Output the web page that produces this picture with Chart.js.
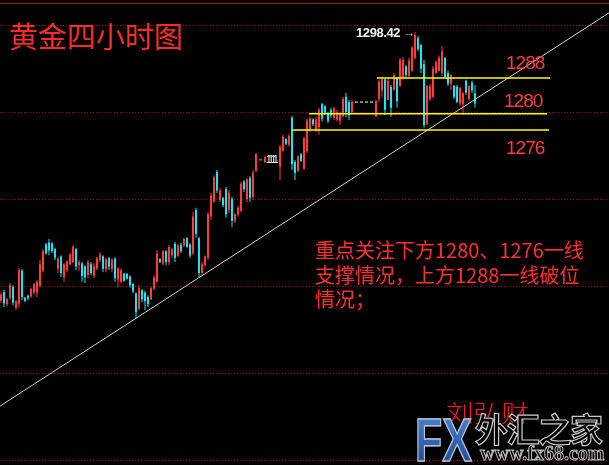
<!DOCTYPE html>
<html><head><meta charset="utf-8">
<script src="https://cdn.jsdelivr.net/npm/chart.js@4/dist/chart.umd.min.js"></script>
<style>
html,body{margin:0;padding:0;background:#000;}
#wrap{position:relative;width:609px;height:465px;overflow:hidden;background:#000;}
canvas{position:absolute;left:0;top:0;}
.t{position:absolute;white-space:nowrap;line-height:1;}
#title{left:9px;top:14px;font:29px "Noto Sans CJK SC",sans-serif;color:#ff2a2a;}
.lvl{font:19px "Liberation Sans",Arial,sans-serif;color:#ff3c3c;letter-spacing:-1px;}
#note{left:315px;top:238px;font:20px "Noto Sans CJK SC",sans-serif;line-height:24.5px;color:#ff3030;}
#hi{left:356px;top:25px;font:bold 13px "Liberation Sans",Arial,sans-serif;color:#eef3fa;letter-spacing:-0.4px;}
#hi span{color:#b8b8b8;font-weight:normal;margin-left:2px;}
#gapmark{left:266px;top:154px;font:10px "Liberation Sans",sans-serif;color:#fff;letter-spacing:-2.5px;}
#sig{left:446px;top:394px;font:300 24px "Noto Sans CJK SC",sans-serif;color:#ff1a1a;transform:scaleX(1.15);transform-origin:left top;}
#fx{left:415px;top:404px;font:bold 62px "Liberation Sans",Arial,sans-serif;transform:scaleX(0.72);transform-origin:left top;
  background:linear-gradient(#4d8fdc,#1b3d8c);-webkit-background-clip:text;background-clip:text;color:transparent;-webkit-text-stroke:1.5px #b9c3cf;}
#cn{left:475px;top:404px;font:bold 33px "Noto Sans CJK SC",sans-serif;color:#000;-webkit-text-stroke:1.2px #c8c8c8;letter-spacing:-1.3px;}
#url{left:480px;top:442px;font:bold 20px "Liberation Serif",serif;color:#000;-webkit-text-stroke:1px #b8b8b8;}
</style></head><body>
<div id="wrap">
<canvas id="c" width="609" height="465"></canvas>
<div class="t" id="title">黄金四小时图</div>
<div class="t lvl" style="left:506px;top:52px;">1288</div>
<div class="t lvl" style="left:504px;top:90px;">1280</div>
<div class="t lvl" style="left:506px;top:137px;">1276</div>
<div class="t" id="hi">1298.42<span>→</span></div>
<div class="t" id="gapmark">1111</div>
<div class="t" id="note">重点关注下方1280、1276一线<br>支撑情况，上方1288一线破位<br>情况；</div>
<div class="t" id="sig">刘弘财</div>
<div class="t" id="fx">FX</div>
<div class="t" id="cn">外汇之家</div>
<div class="t" id="url">www.fx68.com</div>
</div>
<script>
// ---- data (4-hour gold candles) ----
const opens=[1236.6,1238.6,1235.8,1237.3,1239.8,1235.0,1236.0,1243.5,1237.3,1237.8,
1237.6,1238.5,1238.5,1240.0,1243.5,1249.6,1250.0,1249.8,1248.5,1244.0,
1246.8,1242.0,1243.7,1245.0,1245.5,1248.5,1244.8,1245.2,1244.5,1242.5,
1245.0,1242.3,1244.0,1246.0,1246.8,1243.8,1246.4,1243.9,1246.3,1241.5,
1241.0,1242.8,1242.8,1242.2,1240.5,1238.3,1234.8,1239.0,1238.5,1237.5,
1237.0,1239.4,1241.0,1246.2,1245.2,1248.0,1245.5,1247.0,1249.7,1247.0,
1249.5,1249.3,1251.0,1249.5,1247.5,1257.5,1251.0,1243.0,1244.8,1246.5,
1256.0,1259.5,1266.2,1259.8,1260.2,1262.3,1257.5,1260.0,1255.0,1256.5,
1257.3,1264.0,1260.0,1264.8,1260.5,1266.5,null,null,1268.5,null,
null,null,null,1267.5,1271.2,1273.8,1272.5,1278.7,1268.5,1266.5,
1270.3,1267.0,1271.0,1276.0,1278.3,1276.0,1276.5,1281.8,1281.3,1279.8,
1280.5,1278.7,1278.3,1278.0,1279.0,1283.5,1282.3,1280.0,null,null,
null,null,null,null,null,1279.0,1283.0,1285.0,1287.5,1282.8,
1285.8,1285.0,1288.0,1286.0,1288.0,1290.5,1288.3,1289.5,1292.5,1297.0,
1295.5,1291.0,1277.3,1283.0,1283.5,1289.0,1289.5,1289.0,1292.5,1289.0,
1286.5,1286.0,1285.8,1282.0,1281.8,1287.2,1283.0,1286.8,1284.3];
const highs=[1238.6,1239.1,1237.3,1240.7,1240.2,1236.8,1244.1,1243.9,1237.5,1238.0,
1239.6,1240.7,1241.4,1246.0,1248.5,1249.9,1250.8,1250.1,1248.8,1246.7,
1247.1,1245.3,1246.0,1247.6,1249.4,1248.8,1246.0,1245.5,1244.8,1246.0,
1245.5,1245.3,1246.7,1247.8,1247.1,1246.5,1246.7,1246.5,1246.7,1244.4,
1244.1,1243.0,1243.0,1242.5,1240.7,1238.6,1240.2,1239.3,1238.9,1237.9,
1239.8,1242.5,1248.3,1246.4,1248.3,1248.3,1249.4,1248.8,1250.1,1249.7,
1249.9,1251.1,1251.3,1249.9,1257.0,1258.0,1251.3,1245.5,1247.1,1257.0,
1261.4,1265.5,1266.7,1262.5,1260.5,1262.8,1262.1,1260.5,1256.8,1258.5,
1263.9,1264.4,1264.8,1265.3,1266.7,1270.6,null,null,1269.9,null,
null,null,null,1272.4,1274.7,1274.0,1275.0,1279.1,1269.0,1270.1,
1270.6,1274.3,1278.6,1278.9,1278.5,1278.9,1281.0,1282.1,1281.6,1280.0,
1281.0,1281.2,1280.5,1280.0,1283.5,1284.4,1282.8,1282.8,null,null,
null,null,null,null,null,1282.8,1287.4,1288.1,1287.8,1287.8,
1286.2,1289.0,1288.1,1292.4,1292.7,1290.8,1292.5,1295.2,1298.42,1297.5,
1295.5,1292.0,1286.2,1286.5,1290.6,1291.8,1293.0,1295.2,1292.6,1289.5,
1288.8,1286.2,1286.2,1285.8,1284.6,1287.4,1286.2,1287.2,1286.2];
const lows=[1236.1,1235.2,1235.4,1236.8,1235.6,1234.5,1235.0,1236.8,1236.3,1236.8,
1237.3,1238.0,1237.5,1239.6,1243.2,1247.2,1247.1,1247.6,1246.0,1243.0,
1242.1,1241.0,1243.2,1244.8,1245.3,1243.7,1243.5,1241.0,1240.7,1241.8,
1242.5,1241.8,1243.7,1245.5,1243.2,1243.2,1243.7,1243.2,1241.0,1239.8,
1240.7,1241.0,1241.5,1239.6,1238.4,1232.6,1234.5,1236.3,1234.5,1235.2,
1236.8,1239.1,1240.7,1245.3,1244.8,1244.8,1244.8,1246.5,1245.5,1246.7,
1247.6,1249.0,1248.8,1246.5,1247.1,1251.1,1242.1,1242.5,1244.4,1246.0,
1255.2,1259.1,1261.4,1259.3,1258.2,1255.7,1256.8,1253.6,1254.5,1256.0,
1257.0,1261.6,1259.3,1259.3,1259.8,1266.2,null,null,1268.3,null,
null,null,null,1264.4,1270.8,1272.4,1272.0,1266.7,1264.4,1266.2,
1268.5,1266.7,1270.6,1275.4,1276.8,1275.4,1274.8,1277.8,1279.3,1277.5,
1278.7,1278.2,1277.8,1277.0,1278.8,1278.8,1278.2,1279.8,null,null,
null,null,null,null,null,1278.9,1282.3,1283.5,1279.3,1282.8,
1278.9,1285.0,1281.0,1285.8,1287.4,1287.8,1287.9,1289.2,1292.0,1294.0,
1289.0,1276.4,1277.0,1282.5,1283.2,1288.8,1289.3,1288.3,1287.8,1286.0,
1285.0,1283.0,1282.0,1281.4,1279.3,1284.0,1282.6,1284.4,1281.0];
const closes=[1238.0,1236.0,1237.0,1240.2,1236.2,1236.5,1243.6,1237.5,1236.6,1237.2,
1239.3,1240.4,1241.0,1245.0,1248.0,1247.5,1248.2,1248.0,1246.5,1246.3,
1243.0,1245.0,1245.6,1247.2,1249.0,1244.5,1245.5,1242.3,1242.0,1245.5,
1243.0,1244.5,1246.4,1247.3,1244.0,1246.2,1244.5,1246.0,1241.8,1244.0,
1243.6,1241.2,1241.7,1240.2,1238.8,1234.0,1239.5,1237.0,1236.5,1235.8,
1239.5,1242.0,1247.5,1245.5,1248.0,1245.5,1249.0,1248.5,1246.5,1249.3,
1248.0,1250.8,1249.0,1247.0,1256.0,1252.0,1243.0,1245.0,1246.8,1256.5,
1260.8,1265.0,1262.0,1262.0,1258.6,1256.5,1261.5,1255.0,1256.5,1258.0,
1263.5,1262.3,1264.5,1260.3,1266.0,1270.3,null,null,1269.6,null,
null,null,null,1272.0,1274.3,1272.7,1274.5,1268.0,1266.0,1269.8,
1268.8,1274.0,1278.0,1278.5,1277.2,1278.3,1280.5,1278.5,1279.8,1278.0,
1279.2,1280.8,1280.0,1279.5,1283.0,1280.0,1279.3,1282.3,null,null,
null,null,null,null,null,1282.5,1287.0,1287.5,1280.5,1287.2,
1281.0,1288.5,1282.5,1292.0,1292.0,1288.5,1291.8,1294.8,1297.7,1294.5,
1290.0,1277.0,1286.0,1286.0,1290.0,1291.5,1292.5,1294.0,1288.0,1286.5,
1288.5,1283.5,1282.3,1285.5,1284.3,1284.5,1286.0,1285.0,1282.0];

// horizontal support / resistance levels
const levelPrices=[1287.8,1279.6,1275.9];
const levelFrom=[125.3,102.7,96.9];
const levelTo=[183.0,182.0,182.7];
// trendline (bar index, price)
const trendIdx=[-0.333,202.667];
const trendPrice=[1212.4,1302.8];
// gap markers (dashed)
const gapWhite={from:118.0,to:124.0,price:1282.3};
const gapCyan={from:86.0,to:87.4,price:1269.0};
// price grid
const yTicks=[1200,1220,1240,1260,1280,1300];
const yMin=1198.86, yMax=1305.76;
const xMin=-0.333, xMax=202.667;

const UP='#ff3c3c', DOWN='#1de4f2';
const idx=opens.map((_,i)=>i).filter(i=>opens[i]!==null);
const wickData=idx.map(i=>({x:i,y:[lows[i],highs[i]]}));
const bodyData=idx.map(i=>({x:i,y:[Math.min(opens[i],closes[i]),Math.max(opens[i],closes[i])]}));
const cols=idx.map(i=>closes[i]>=opens[i]?UP:DOWN);

const lineDs=(pts,color,w,dash)=>({type:'line',data:pts,borderColor:color,borderWidth:w,borderDash:dash||[],pointRadius:0,fill:false,order:0,tension:0});

const datasets=[];
levelPrices.forEach((p,k)=>datasets.push(lineDs([{x:levelFrom[k],y:p},{x:levelTo[k],y:p}],'#ffff00',1.5)));
datasets.push(lineDs([{x:trendIdx[0],y:trendPrice[0]},{x:trendIdx[1],y:trendPrice[1]}],'#d4d4d4',1));
datasets.push(lineDs([{x:gapWhite.from,y:gapWhite.price},{x:gapWhite.to,y:gapWhite.price}],'#ffffff',1,[3,2]));
datasets.push(lineDs([{x:gapCyan.from,y:gapCyan.price},{x:gapCyan.to,y:gapCyan.price}],DOWN,1,[3,2]));
datasets.push({type:'bar',data:bodyData,backgroundColor:cols,barThickness:2,minBarLength:1,grouped:false,inflateAmount:0,borderWidth:0,order:1});
datasets.push({type:'bar',data:wickData,backgroundColor:cols,barThickness:1,grouped:false,inflateAmount:0,borderWidth:0,order:2});

const frame={id:'frame',beforeDatasetsDraw(chart){const c=chart.ctx;c.save();c.strokeStyle='#b01414';c.lineWidth=1;c.beginPath();c.moveTo(0,3.5);c.lineTo(chart.width,3.5);c.stroke();c.restore();}};

new Chart(document.getElementById('c'),{
  type:'bar',
  data:{datasets},
  plugins:[frame],
  options:{
    responsive:false,animation:false,devicePixelRatio:1,
    layout:{padding:0},
    plugins:{legend:{display:false},tooltip:{enabled:false}},
    scales:{
      x:{type:'linear',min:xMin,max:xMax,display:false,offset:false},
      y:{type:'linear',min:yMin,max:yMax,display:true,
         afterFit(s){s.width=0;},
         afterBuildTicks(s){s.ticks=yTicks.map(v=>({value:v}));},
         ticks:{display:false},
         grid:{color:'#a00000',drawTicks:false,lineWidth:1},
         border:{display:false,dash:[1,2]}}
    }
  }
});
</script>
</body></html>
